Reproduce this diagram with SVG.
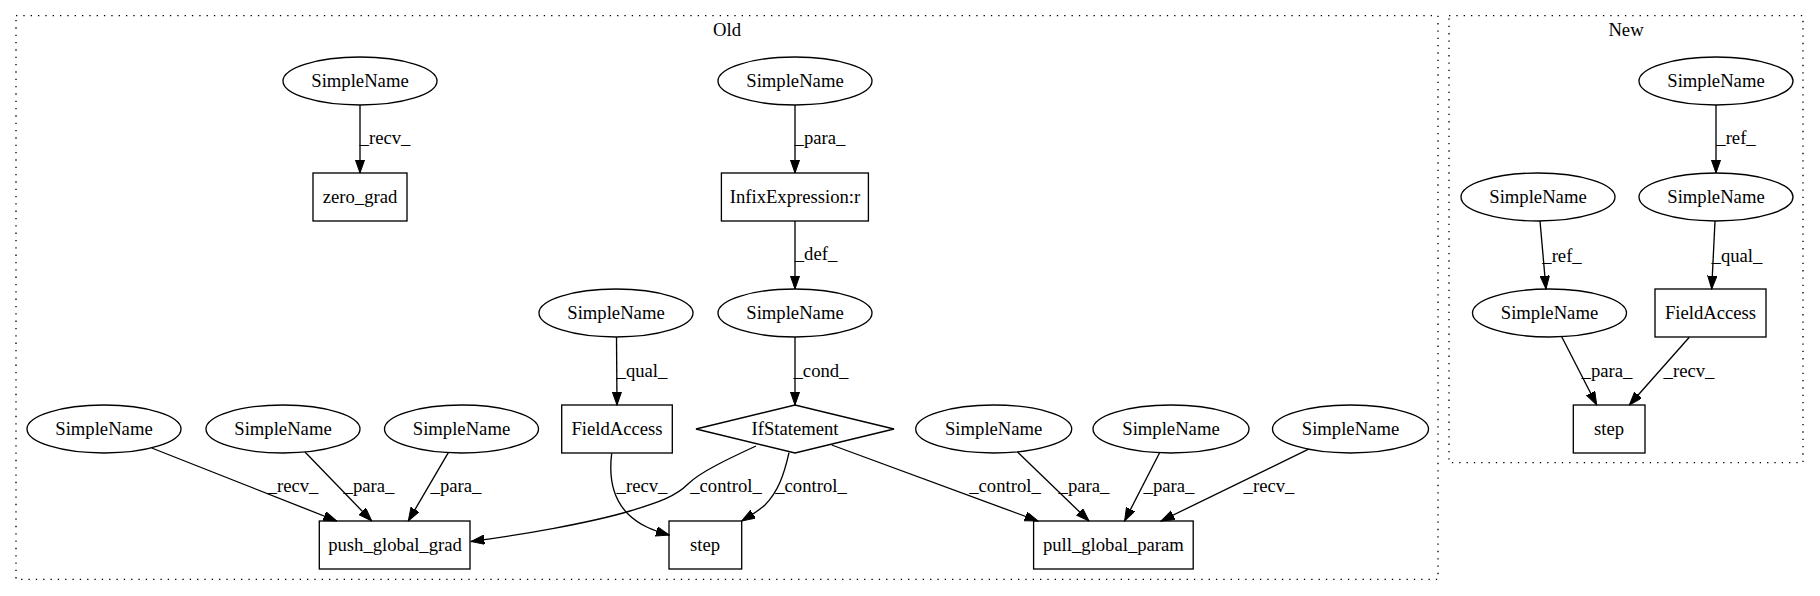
<svg xmlns="http://www.w3.org/2000/svg" width="1820" height="596" viewBox="0 0 1820 596" font-family="Liberation Serif, Times New Roman, Times, serif">
<style>
text{font-family:'Liberation Serif','Times New Roman',Times,serif;font-size:18.67px;fill:#000;text-anchor:middle}
.n{fill:none;stroke:#000;stroke-width:1.33}
.cl{fill:none;stroke:#000;stroke-width:1.33;stroke-dasharray:1.33,6}
.e{fill:none;stroke:#000;stroke-width:1.33;marker-end:url(#ah)}
</style>
<defs>
<marker id="ah" viewBox="0 0 14 10" refX="13.3" refY="4.67" markerWidth="14" markerHeight="10" orient="auto" markerUnits="userSpaceOnUse">
<path d="M0,0 L13.3,4.67 L0,9.33 z" fill="#000" stroke="#000" stroke-width="1"/>
</marker>
</defs>
<rect width="1820" height="596" fill="#fff"/>
<g id="cluster_old">
<rect class="cl" x="16" y="15.7" width="1422" height="563.6"/>
<text x="727" y="36">Old</text>
</g>
<g id="cluster_new">
<rect class="cl" x="1449" y="15.7" width="354" height="447"/>
<text x="1626" y="36">New</text>
</g>
<g id="connectors">
<path class="e" d="M360,105 L360,173"/><text x="385" y="144">_recv_</text>
<path class="e" d="M795,105 L795,173"/><text x="820" y="144">_para_</text>
<path class="e" d="M795,221 L795,289"/><text x="816" y="260">_def_</text>
<path class="e" d="M616.5,337 L617,405"/><text x="642" y="376.7">_qual_</text>
<path class="e" d="M795,337 L795,405"/><text x="821" y="376.7">_cond_</text>
<path class="e" d="M151.7,448 L336.7,521"/><text x="293" y="492">_recv_</text>
<path class="e" d="M305,452 L371.7,521"/><text x="369" y="492">_para_</text>
<path class="e" d="M448.3,452.7 L408.3,521"/><text x="456" y="492">_para_</text>
<path class="e" d="M611.7,453.3 C609,475 612,498 628,514 C640,526 655,531 669.3,535"/><text x="642" y="492">_recv_</text>
<path class="e" d="M756,446 C730,458 700,472 688,484 C676,496 660,502 630,511 C590,523 520,535 471,541.5"/><text x="726" y="492">_control_</text>
<path class="e" d="M789,452.7 C784,475 778,492 765,505 C757,512 750,516 741.7,521"/><text x="811" y="492">_control_</text>
<path class="e" d="M831.7,445 L1038,521"/><text x="1005" y="492">_control_</text>
<path class="e" d="M1017.5,452 L1089,521"/><text x="1084" y="492">_para_</text>
<path class="e" d="M1159.6,452.7 L1124.6,521"/><text x="1169" y="492">_para_</text>
<path class="e" d="M1308.6,449.2 L1161,521"/><text x="1269" y="492">_recv_</text>
<path class="e" d="M1716,105 L1716,173"/><text x="1736" y="144">_ref_</text>
<path class="e" d="M1540,221 L1546,289"/><text x="1562" y="261.7">_ref_</text>
<path class="e" d="M1715,221 L1711.7,289"/><text x="1737" y="261.7">_qual_</text>
<path class="e" d="M1561.7,336.7 L1596.7,405"/><text x="1607" y="376.7">_para_</text>
<path class="e" d="M1689.3,337.3 L1629.3,405"/><text x="1689" y="376.7">_recv_</text>
</g>
<g id="n1"><ellipse class="n" cx="360" cy="81" rx="77" ry="24"/><text x="360" y="86.6">SimpleName</text></g>
<g id="n2"><rect class="n" x="313" y="173" width="94" height="48"/><text x="360" y="202.6">zero_grad</text></g>
<g id="n3"><ellipse class="n" cx="795" cy="81" rx="77" ry="24"/><text x="795" y="86.6">SimpleName</text></g>
<g id="n4"><rect class="n" x="721.4" y="173" width="147" height="48"/><text x="795" y="202.6">InfixExpression:r</text></g>
<g id="n5"><ellipse class="n" cx="795" cy="313" rx="77" ry="24"/><text x="795" y="318.6">SimpleName</text></g>
<g id="n6"><ellipse class="n" cx="616" cy="313" rx="77" ry="24"/><text x="616" y="318.6">SimpleName</text></g>
<g id="n7"><rect class="n" x="561.7" y="405" width="110.6" height="48"/><text x="617" y="434.6">FieldAccess</text></g>
<g id="n8"><polygon class="n" points="696,429 795,405 894,429 795,453"/><text x="795" y="434.6">IfStatement</text></g>
<g id="n9"><ellipse class="n" cx="104" cy="429" rx="77" ry="24"/><text x="104" y="434.6">SimpleName</text></g>
<g id="n10"><ellipse class="n" cx="283" cy="429" rx="77" ry="24"/><text x="283" y="434.6">SimpleName</text></g>
<g id="n11"><ellipse class="n" cx="461.5" cy="429" rx="77" ry="24"/><text x="461.5" y="434.6">SimpleName</text></g>
<g id="n12"><rect class="n" x="319.3" y="521" width="150.7" height="48"/><text x="395" y="550.6">push_global_grad</text></g>
<g id="n13"><rect class="n" x="669" y="521" width="72.7" height="48"/><text x="705" y="550.6">step</text></g>
<g id="n14"><rect class="n" x="1033.6" y="521" width="159.6" height="48"/><text x="1113.4" y="550.6">pull_global_param</text></g>
<g id="n15"><ellipse class="n" cx="993.7" cy="429" rx="78" ry="24"/><text x="993.7" y="434.6">SimpleName</text></g>
<g id="n16"><ellipse class="n" cx="1171" cy="429" rx="78" ry="24"/><text x="1171" y="434.6">SimpleName</text></g>
<g id="n17"><ellipse class="n" cx="1350.5" cy="429" rx="78" ry="24"/><text x="1350.5" y="434.6">SimpleName</text></g>
<g id="n18"><ellipse class="n" cx="1716" cy="81" rx="77" ry="24"/><text x="1716" y="86.6">SimpleName</text></g>
<g id="n19"><ellipse class="n" cx="1716" cy="197" rx="77" ry="24"/><text x="1716" y="202.6">SimpleName</text></g>
<g id="n20"><ellipse class="n" cx="1538" cy="197" rx="77" ry="24"/><text x="1538" y="202.6">SimpleName</text></g>
<g id="n21"><ellipse class="n" cx="1549.5" cy="313" rx="77" ry="24"/><text x="1549.5" y="318.6">SimpleName</text></g>
<g id="n22"><rect class="n" x="1655" y="289" width="111" height="48"/><text x="1710.5" y="318.6">FieldAccess</text></g>
<g id="n23"><rect class="n" x="1573.3" y="405" width="71.7" height="48"/><text x="1609" y="434.6">step</text></g>
</svg>
